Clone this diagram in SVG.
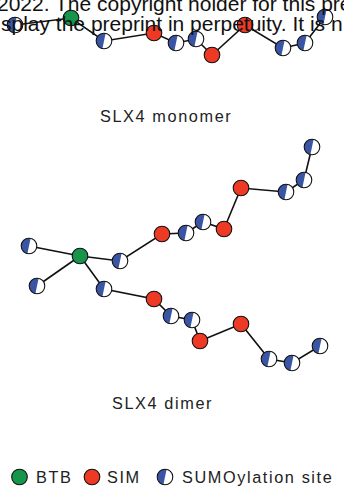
<svg xmlns="http://www.w3.org/2000/svg" xmlns:xlink="http://www.w3.org/1999/xlink" width="344" height="493" viewBox="0 0 344 493">
<style>
.edge{stroke:#111;stroke-width:1.6;fill:none}
.btb{fill:#16964a;stroke:#111;stroke-width:1.1}
.sim{fill:#ee3a24;stroke:#111;stroke-width:1.1}
.lbl{font-family:"Liberation Sans",Arial,sans-serif;font-size:16.3px;fill:#222;letter-spacing:1.6px}
.wm{font-family:"Liberation Sans",Arial,sans-serif;font-size:21px;fill:#111}
</style>
<defs>
<g id="sumo">
<circle r="7.8" fill="#fff"/>
<path d="M0,-7.8 A7.8,7.8 0 0 0 0,7.8 Z" fill="#3a55a4" transform="rotate(12)"/>
<circle r="7.8" fill="none" stroke="#111" stroke-width="1.1"/>
</g>
</defs>
<rect width="344" height="493" fill="#fff"/>
<g id="connectors">
<polyline class="edge" points="15,25 71,18 104,41 154,33 176,43 196,39 212,55 245,25 283,48 305,43 325,17"/>
<line class="edge" x1="80" y1="256" x2="29" y2="246"/>
<line class="edge" x1="80" y1="256" x2="37" y2="286"/>
<polyline class="edge" points="80,256 120,261 162,234 186,233 203,222 224,229 241,188 286,192 304,180 312,147"/>
<polyline class="edge" points="80,256 104,289 154,299 171,316 192,320 200,341 241,324 269,359 292,363 320,346"/>
</g>
<g id="monomer">
<g id="m1"><use xlink:href="#sumo" x="15" y="25"/></g>
<g id="m2"><circle class="btb" cx="71" cy="18" r="7.8"/></g>
<g id="m3"><use xlink:href="#sumo" x="104" y="41"/></g>
<g id="m4"><circle class="sim" cx="154" cy="33" r="7.8"/></g>
<g id="m5"><use xlink:href="#sumo" x="176" y="43"/></g>
<g id="m6"><use xlink:href="#sumo" x="196" y="39"/></g>
<g id="m7"><circle class="sim" cx="212" cy="55" r="7.8"/></g>
<g id="m8"><circle class="sim" cx="245" cy="25" r="7.8"/></g>
<g id="m9"><use xlink:href="#sumo" x="283" y="48"/></g>
<g id="m10"><use xlink:href="#sumo" x="305" y="43"/></g>
<g id="m11"><use xlink:href="#sumo" x="325" y="17"/></g>
</g>
<g id="dimer">
<g id="d0"><circle class="btb" cx="80" cy="256" r="7.8"/></g>
<g id="d1"><use xlink:href="#sumo" x="29" y="246"/></g>
<g id="d2"><use xlink:href="#sumo" x="37" y="286"/></g>
<g id="a1"><use xlink:href="#sumo" x="120" y="261"/></g>
<g id="a2"><circle class="sim" cx="162" cy="234" r="7.8"/></g>
<g id="a3"><use xlink:href="#sumo" x="186" y="233"/></g>
<g id="a4"><use xlink:href="#sumo" x="203" y="222"/></g>
<g id="a5"><circle class="sim" cx="224" cy="229" r="7.8"/></g>
<g id="a6"><circle class="sim" cx="241" cy="188" r="7.8"/></g>
<g id="a7"><use xlink:href="#sumo" x="286" y="192"/></g>
<g id="a8"><use xlink:href="#sumo" x="304" y="180"/></g>
<g id="a9"><use xlink:href="#sumo" x="312" y="147"/></g>
<g id="b1"><use xlink:href="#sumo" x="104" y="289"/></g>
<g id="b2"><circle class="sim" cx="154" cy="299" r="7.8"/></g>
<g id="b3"><use xlink:href="#sumo" x="171" y="316"/></g>
<g id="b4"><use xlink:href="#sumo" x="192" y="320"/></g>
<g id="b5"><circle class="sim" cx="200" cy="341" r="7.8"/></g>
<g id="b6"><circle class="sim" cx="241" cy="324" r="7.8"/></g>
<g id="b7"><use xlink:href="#sumo" x="269" y="359"/></g>
<g id="b8"><use xlink:href="#sumo" x="292" y="363"/></g>
<g id="b9"><use xlink:href="#sumo" x="320" y="346"/></g>
</g>
<g id="watermark">
<text class="wm" x="-3" y="11">2022. The copyright holder for this pre</text>
<text class="wm" x="1" y="31">splay the preprint in perpetuity. It is n</text>
</g>
<g id="labels">
<text class="lbl" x="100" y="122">SLX4 monomer</text>
<text class="lbl" x="112" y="409">SLX4 dimer</text>
</g>
<g id="legend">
<circle class="btb" cx="19.5" cy="477" r="7.8"/>
<text class="lbl" x="36" y="483">BTB</text>
<circle class="sim" cx="92" cy="477" r="7.8"/>
<text class="lbl" x="107" y="483">SIM</text>
<use xlink:href="#sumo" x="165" y="477"/>
<text class="lbl" x="182" y="483">SUMOylation site</text>
</g>
</svg>
